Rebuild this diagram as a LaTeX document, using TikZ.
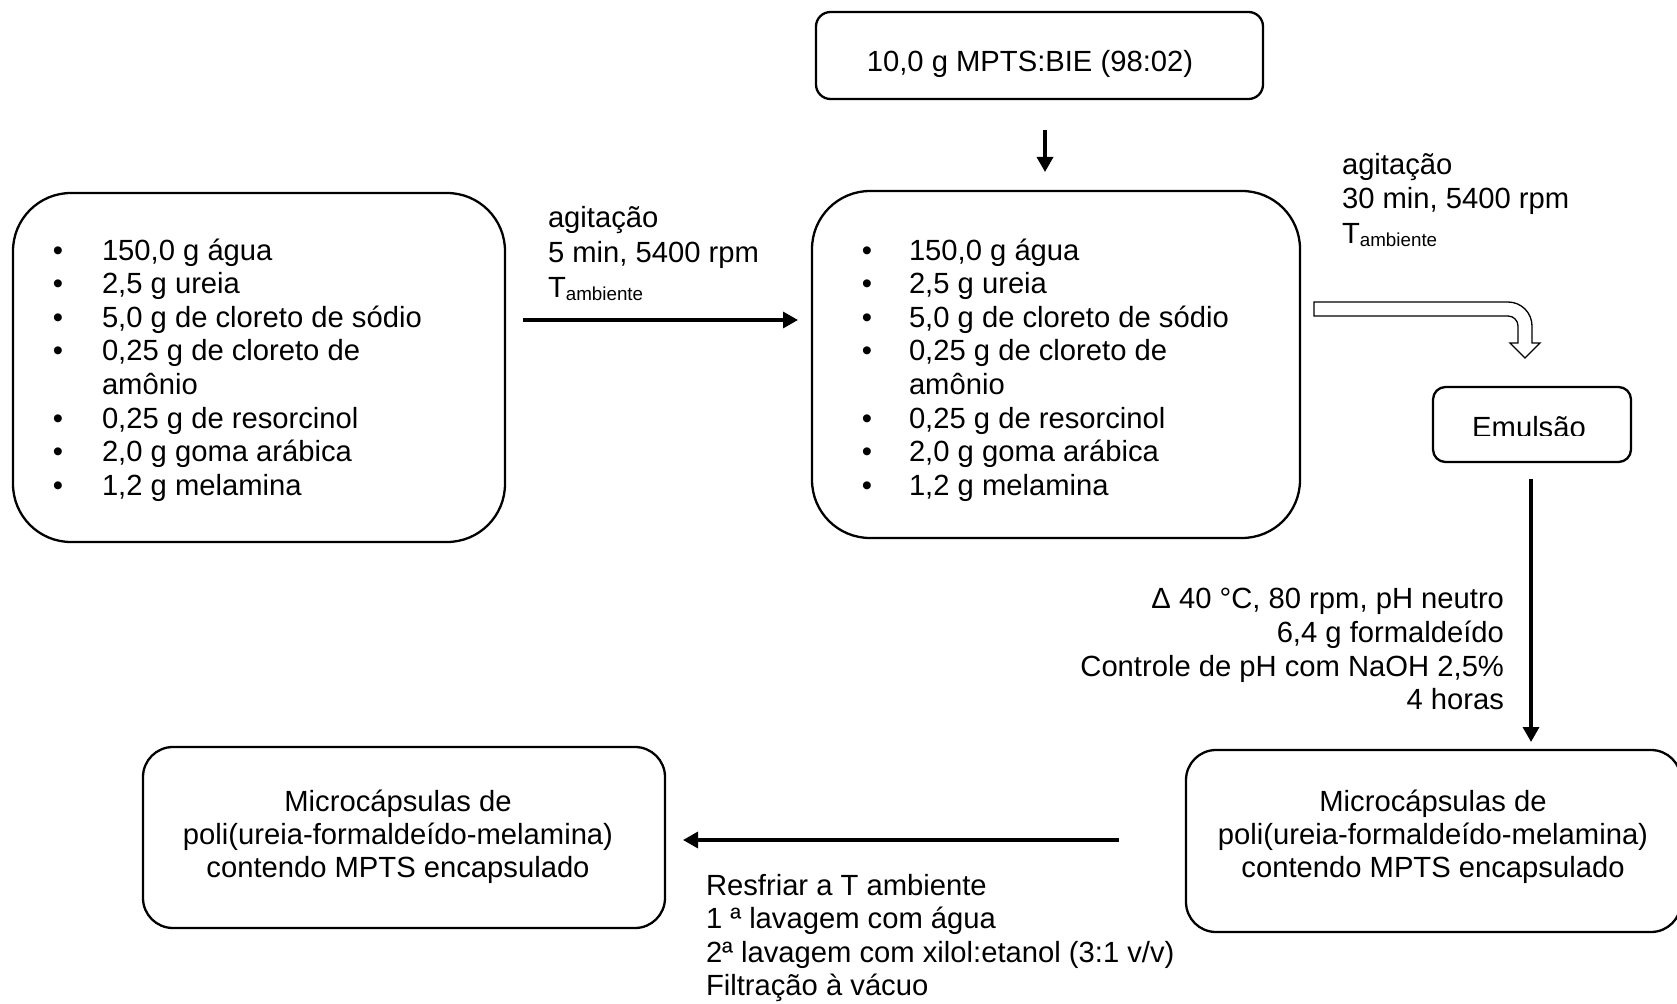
\documentclass[tikz,border=0pt]{standalone}
\usepackage{fontspec}
\setmainfont{Liberation Sans}
\usetikzlibrary{arrows.meta}
\newcommand\subsz{\fontsize{18.8pt}{20pt}\selectfont}
\begin{document}
\begin{tikzpicture}[x=1pt,y=-1pt,
  box/.style={draw, line width=2.3pt, rounded corners=#1, inner sep=0pt, outer sep=0pt, anchor=north west},
  flow/.style={line width=3.3pt, -{Triangle[length=15pt,width=16pt]}},
  txt/.style={inner sep=0pt, outer sep=0pt, font=\fontsize{29.2pt}{33.5pt}\selectfont},
]
\useasboundingbox (0,0) rectangle (1677,1003);
\clip (0,0) rectangle (1677,1003);
\fill[white] (0,0) rectangle (1677,1003);

% boxes
\node[box=14.5pt, minimum width=447pt, minimum height=87pt] (top) at (816,12) {};
\node[box=58pt, minimum width=492pt, minimum height=349pt] (left) at (13,193) {};
\node[box=58pt, minimum width=488pt, minimum height=347pt] (mid) at (812,191) {};
\node[box=12.5pt, minimum width=198pt, minimum height=75pt] (em) at (1433,387) {};
\node[box=30pt, minimum width=522pt, minimum height=181pt] (bl) at (143,747) {};
\node[box=30pt, minimum width=495pt, minimum height=182pt] (br) at (1186,750) {};

% box texts
\node[txt, anchor=base] (toptxt) at (1030,72) {10,0 g MPTS:BIE (98:02)};
\begin{scope}
  \clip (1433,387) rectangle (1631,435);
  \node[txt, anchor=base] (emtxt) at (1529,437.5) {Emulsão};
\end{scope}
\foreach \cx/\nm in {398/bl, 1433/br} {
  \node[txt, anchor=base] (\nm t0) at (\cx,811) {Microcápsulas de};
  \node[txt, anchor=base] (\nm t1) at (\cx,844) {poli(ureia-formaldeído-melamina)};
  \node[txt, anchor=base] (\nm t2) at (\cx,877) {contendo MPTS encapsulado};
}

% ingredient lists
\foreach \bx/\tx/\nm in {58/102/l, 867/909/m} {
  \foreach \k in {0,1,2,3,5,6,7}
    \node[txt, anchor=base] (\nm b\k) at (\bx,{260+33.6*\k}) {•};
  \foreach \t [count=\k from 0] in {{150,0 g água},{2,5 g ureia},{5,0 g de cloreto de sódio},{0,25 g de cloreto de},{amônio},{0,25 g de resorcinol},{2,0 g goma arábica},{1,2 g melamina}}
    \node[txt, anchor=base west] (\nm t\k) at (\tx,{260+33.6*\k}) {\t};
}

% process conditions
\node[txt, anchor=base west] (ag1a) at (548,227) {agitação};
\node[txt, anchor=base west] (ag1b) at (548,262) {5 min, 5400 rpm};
\node[txt, anchor=base west] (ag1c) at (548,297) {T\raisebox{-3pt}{\subsz ambiente}};

\node[txt, anchor=base west] (ag2a) at (1342,175) {agitação};
\node[txt, anchor=base west] (ag2b) at (1342,208) {30 min, 5400 rpm};
\node[txt, anchor=base west] (ag2c) at (1342,243) {T\raisebox{-3pt}{\subsz ambiente}};

\node[txt, anchor=base east] (cu1) at (1504,608) {Δ 40 °C, 80 rpm, pH neutro};
\node[txt, anchor=base east] (cu2) at (1504,642) {6,4 g formaldeído};
\node[txt, anchor=base east] (cu3) at (1504,676) {Controle de pH com NaOH 2,5\%};
\node[txt, anchor=base east] (cu4) at (1504,709) {4 horas};

\node[txt, anchor=base west] (wa1) at (706,895) {Resfriar a T ambiente};
\node[txt, anchor=base west] (wa2) at (706,928) {1 ª lavagem com água};
\node[txt, anchor=base west] (wa3) at (706,962) {2ª lavagem com xilol:etanol (3:1 v/v)};
\node[txt, anchor=base west] (wa4) at (706,995) {Filtração à vácuo};

% connectors
\draw[flow, shorten <=31pt, shorten >=19pt] ([xshift=5.5pt]top.south) -- ([xshift=-11pt]mid.north);
\draw[flow, shorten <=18pt, shorten >=14pt] ([yshift=47.5pt]left.east) -- ([yshift=44.5pt]mid.west);
\draw[flow, shorten <=17pt, shorten >=8pt] ([xshift=-1pt]em.south) -- ([xshift=97.5pt]br.north);
\draw[flow, shorten <=67pt, shorten >=18pt] ([yshift=1pt]br.west) -- ([yshift=-2.5pt]bl.east);

% bent hollow block arrow towards the emulsion
\draw[line width=1.3pt, fill=white]
  (1314,302) -- (1508,302) .. controls (1521.25,302) and (1532,312.75) .. (1532,326)
  -- (1532,343) -- (1540,343) -- (1525,358) -- (1510,343) -- (1518,343) -- (1518,326)
  .. controls (1518,320.5) and (1513.5,316) .. (1508,316) -- (1314,316) -- cycle;
\end{tikzpicture}
\end{document}
